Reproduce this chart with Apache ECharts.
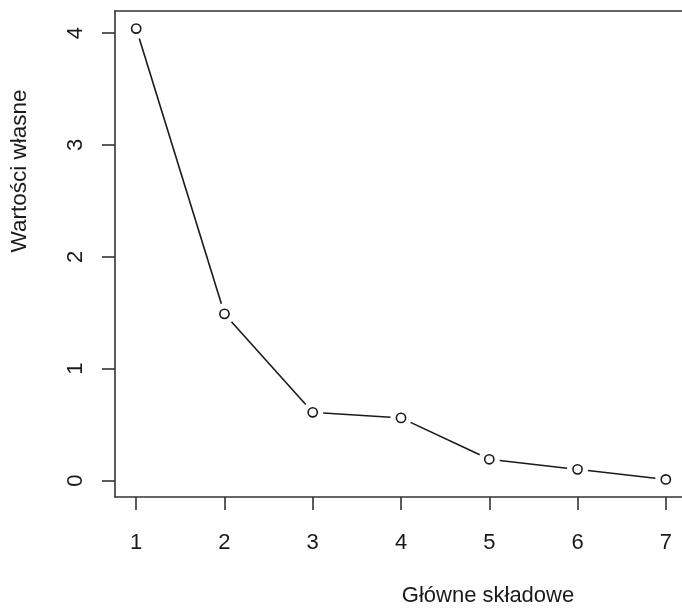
<!DOCTYPE html>
<html>
<head>
<meta charset="utf-8">
<script src="https://cdn.jsdelivr.net/npm/echarts@6/dist/echarts.min.js"></script>
<style>
html,body{margin:0;padding:0;background:#fff;overflow:hidden;}
#c{width:682px;height:608px;}
</style>
</head>
<body>
<div id="c"></div>
<script>
var components = [1, 2, 3, 4, 5, 6, 7];
var eigenvalues = [4.04, 1.49, 0.61, 0.56, 0.19, 0.10, 0.01];
var xTicks = [1, 2, 3, 4, 5, 6, 7];
var yTicks = [0, 1, 2, 3, 4];
var xTitle = 'Główne składowe';
var yTitle = 'Wartości własne';

var pts = components.map(function (c, i) { return [c, eigenvalues[i]]; });
var font = 'Liberation Sans, Arial, sans-serif';
var ink = '#1a1a1a';
var axisInk = '#333';

function renderPoint(params, api) {
  var i = params.dataIndex;
  var p = api.coord([api.value(0), api.value(1)]);
  var children = [{
    type: 'circle',
    shape: {cx: p[0], cy: p[1], r: 4.6},
    style: {fill: '#fff', stroke: ink, lineWidth: 1.6},
    z2: 2
  }];
  if (i < pts.length - 1) {
    var q = api.coord(pts[i + 1]);
    var dx = q[0] - p[0], dy = q[1] - p[1];
    var len = Math.sqrt(dx * dx + dy * dy);
    var gap = 10.5;
    if (len > 2 * gap) {
      var ux = dx / len, uy = dy / len;
      children.push({
        type: 'line',
        shape: {x1: p[0] + ux * gap, y1: p[1] + uy * gap, x2: q[0] - ux * gap, y2: q[1] - uy * gap},
        style: {stroke: ink, lineWidth: 1.6},
        z2: 1
      });
    }
  }
  return {type: 'group', children: children};
}

var chart = echarts.init(document.getElementById('c'), null, {renderer: 'canvas'});
chart.setOption({
  animation: false,
  backgroundColor: '#fff',
  grid: {left: 115, top: 11, width: 572, height: 486, outerBoundsMode: 'none', containLabel: false, show: false},
  xAxis: [{
    type: 'value', min: 0.76, max: 7.24,
    splitLine: {show: false},
    axisLine: {show: true, onZero: false, lineStyle: {color: axisInk, width: 1.6}},
    axisTick: {show: true, length: 13, customValues: xTicks, lineStyle: {color: axisInk, width: 1.6}},
    axisLabel: {customValues: xTicks, margin: 35, fontSize: 22, fontFamily: font, color: ink}
  }, {
    type: 'value', position: 'top', min: 0.76, max: 7.24,
    splitLine: {show: false},
    axisLine: {show: true, onZero: false, lineStyle: {color: axisInk, width: 1.6}},
    axisTick: {show: false},
    axisLabel: {show: false}
  }],
  yAxis: {
    type: 'value', min: -0.147, max: 4.197,
    splitLine: {show: false},
    axisLine: {show: true, onZero: false, lineStyle: {color: axisInk, width: 1.6}},
    axisTick: {show: true, length: 13, customValues: yTicks, lineStyle: {color: axisInk, width: 1.6}},
    axisLabel: {customValues: yTicks, rotate: 90, margin: 28, fontSize: 22, fontFamily: font, color: ink}
  },
  graphic: [
    {id: 'xt', type: 'text', x: 488, y: 596, style: {text: xTitle, fontSize: 22, fontFamily: font, fill: ink, align: 'center', verticalAlign: 'middle'}},
    {id: 'yt', type: 'text', x: 20, y: 171, rotation: Math.PI / 2, style: {text: yTitle, fontSize: 22.5, fontFamily: font, fill: ink, align: 'center', verticalAlign: 'middle'}}
  ],
  series: [{
    type: 'custom',
    xAxisIndex: 0,
    yAxisIndex: 0,
    data: pts,
    renderItem: renderPoint,
    clip: false
  }]
});
</script>
</body>
</html>
